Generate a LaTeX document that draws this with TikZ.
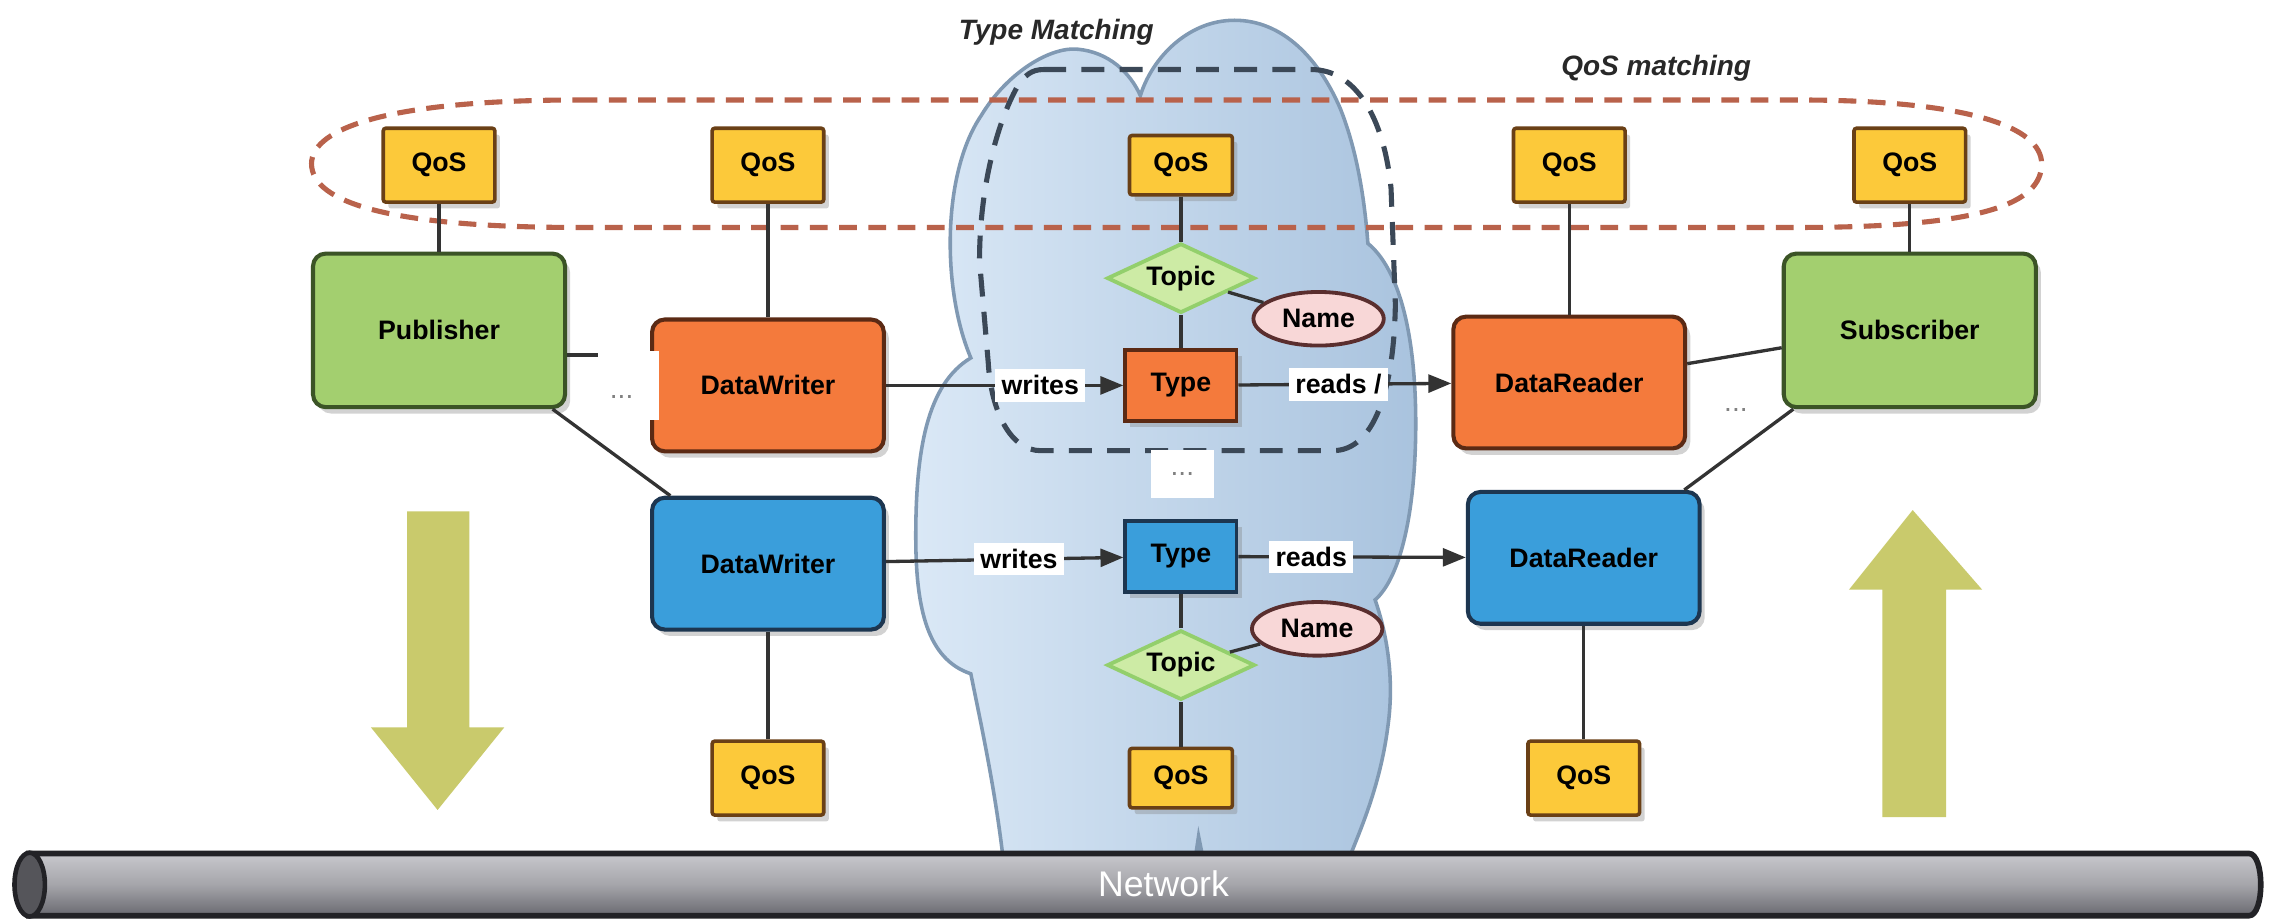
\documentclass[tikz,border=0pt]{standalone}
\usepackage{fontspec}
\setmainfont{Liberation Sans}
\usetikzlibrary{shapes.geometric, arrows.meta, shadows, calc}
\definecolor{greenf}{HTML}{A3CF6F}
\definecolor{greend}{HTML}{3B5426}
\definecolor{orangef}{HTML}{F47A3C}
\definecolor{oranged}{HTML}{5B2A14}
\definecolor{bluef}{HTML}{3A9EDB}
\definecolor{blued}{HTML}{1D3650}
\definecolor{qosf}{HTML}{FCC93A}
\definecolor{qosd}{HTML}{6A4016}
\definecolor{topicf}{HTML}{CDEBA5}
\definecolor{topicd}{HTML}{93CF6C}
\definecolor{namef}{HTML}{F8D7D7}
\definecolor{named}{HTML}{5A2E2E}
\definecolor{cloudl}{HTML}{DAE8F6}
\definecolor{cloudr}{HTML}{A9C3DE}
\definecolor{cloudd}{HTML}{8099B3}
\definecolor{reddash}{HTML}{B9624B}
\definecolor{blkdash}{HTML}{3B4857}
\definecolor{olivea}{HTML}{C9CA6C}
\definecolor{linec}{HTML}{333333}
\definecolor{netd}{HTML}{222226}
\tikzset{
  conn/.style={draw=linec, line width=1.3pt},
  arr/.style={conn, -{Triangle[length=9pt,width=7pt]}},
  boxfont/.style={font=\fontsize{10.5}{12}\selectfont\bfseries},
  shad/.style={drop shadow={opacity=0.35, shadow xshift=2pt, shadow yshift=-2.5pt}},
  bigbox/.style={boxfont, shad, draw, rounded corners=5pt, line width=1.6pt},
  pubbox/.style={bigbox, fill=greenf, draw=greend, minimum width=3.48cm, minimum height=2.12cm},
  orbox/.style={bigbox, fill=orangef, draw=oranged, minimum width=3.2cm, minimum height=1.82cm},
  blbox/.style={bigbox, fill=bluef, draw=blued, minimum width=3.2cm, minimum height=1.82cm},
  qos/.style={boxfont, shad, draw=qosd, fill=qosf, line width=1.4pt, rounded corners=1pt, minimum width=1.54cm, minimum height=1.02cm, inner sep=0pt},
  qosc/.style={qos, minimum width=1.42cm, minimum height=0.82cm},
  typebox/.style={boxfont, shad, line width=1.4pt, minimum width=1.54cm, minimum height=0.98cm, inner sep=0pt},
  topic/.style={boxfont, diamond, aspect=2.1, draw=topicd, fill=topicf, line width=1.5pt, minimum width=2.04cm, minimum height=0.96cm, inner sep=0pt},
  namee/.style={boxfont, ellipse, draw=named, fill=namef, line width=1.5pt, minimum width=1.8cm, minimum height=0.74cm, inner sep=0pt},
  lbl/.style={boxfont, fill=white, inner sep=2.5pt},
  dotsn/.style={font=\fontsize{11}{12}\selectfont, text=gray},
  matchlbl/.style={font=\fontsize{11}{13}\selectfont\bfseries\itshape, text={rgb,255:red,40;green,40;blue,40}},
}
\begin{document}
\begin{tikzpicture}[x=0.02cm, y=-0.02cm]
\useasboundingbox (0,0) rectangle (1568,634);
\fill[white] (0,0) rectangle (1568,634);

% cloud
\shade[left color=cloudl, right color=cloudr, draw=cloudd, line width=1.4pt]
 (692,590) .. controls (686,540) and (676,495) .. (670,465)
 .. controls (640,455) and (632,420) .. (632,370)
 .. controls (632,310) and (640,265) .. (670,247)
 .. controls (650,200) and (650,120) .. (677,80)
 .. controls (695,50) and (725,32) .. (744,34)
 .. controls (765,36) and (780,50) .. (787,66)
 .. controls (795,40) and (820,14) .. (852,14)
 .. controls (885,14) and (910,40) .. (925,75)
 .. controls (937,105) and (942,140) .. (944,168)
 .. controls (965,185) and (978,230) .. (977,300)
 .. controls (976,360) and (965,400) .. (949,414)
 .. controls (958,440) and (962,470) .. (958,500)
 .. controls (953,540) and (940,570) .. (932,590) -- cycle;
\fill[cloudd] (824,590) -- (827,570) -- (831,590) -- cycle;

% QoS matching (red dashed)
\draw[reddash, line width=2pt, dash pattern=on 7pt off 4.5pt]
 (400,69) -- (1240,69) .. controls (1360,69) and (1409,88) .. (1409,113)
 .. controls (1409,140) and (1370,157) .. (1240,157) -- (400,157)
 .. controls (270,157) and (215,140) .. (215,113)
 .. controls (215,88) and (270,69) .. (400,69) -- cycle;

% Type matching (black dashed)
\draw[blkdash, line width=2pt, dash pattern=on 9pt off 6pt]
 (720,48) -- (905,48) .. controls (935,48) and (955,80) .. (960,130)
 -- (963,210) .. controls (962,270) and (948,311) .. (920,311)
 -- (718,311) .. controls (698,311) and (684,285) .. (682,250)
 -- (676,180) .. controls (676,130) and (688,85) .. (702,60)
 .. controls (707,52) and (712,48) .. (720,48) -- cycle;

\node[matchlbl] (tmlabel) at (729,22) {Type Matching};
\node[matchlbl] (qmlabel) at (1143,47) {QoS matching};

% big arrows
\fill[olivea] (281,353) -- (324,353) -- (324,502) -- (348,502) -- (302,559) -- (256,502) -- (281,502) -- cycle;
\fill[olivea] (1299,564) -- (1343,564) -- (1343,407) -- (1368,407) -- (1320,352) -- (1276,407) -- (1299,407) -- cycle;

% network
\shade[top color={rgb,255:red,200;green,200;blue,205}, bottom color={rgb,255:red,105;green,105;blue,112}, middle color={rgb,255:red,165;green,165;blue,170}, draw=netd, line width=2.2pt]
 (20,589) -- (1552,589) .. controls (1563,589) and (1563,632) .. (1552,632)
 -- (20,632) -- cycle;
\node[ellipse, draw=netd, line width=1.8pt, fill={rgb,255:red,85;green,85;blue,90}, minimum width=0.42cm, minimum height=0.88cm, inner sep=0pt] (netcap) at (20.5,610.5) {};
\node[text=white, font=\fontsize{14}{16}\selectfont] (net) at (803,610) {Network};

% nodes
\node[pubbox] (pub) at (303,228) {Publisher};
\node[pubbox] (sub) at (1318,228) {Subscriber};
\node[orbox] (dwo) at (530,266) {DataWriter};
\node[orbox] (dro) at (1083,264) {DataReader};
\node[blbox] (dwb) at (530,389) {DataWriter};
\node[blbox] (drb) at (1093,385) {DataReader};

\node[qos] (q1) at (303,114) {QoS};
\node[qos] (q2) at (530,114) {QoS};
\node[qosc] (q3) at (815,114) {QoS};
\node[qos] (q4) at (1083,114) {QoS};
\node[qos] (q5) at (1318,114) {QoS};
\node[qosc] (q6) at (815,537) {QoS};
\node[qos] (q7) at (530,537) {QoS};
\node[qos] (q8) at (1093,537) {QoS};

\node[typebox, fill=orangef, draw=oranged] (t1) at (815,266) {Type};
\node[typebox, fill=bluef, draw=blued] (t2) at (815,384) {Type};
\node[topic] (tp1) at (815,192) {Topic};
\node[topic] (tp2) at (815,459) {Topic};
\node[namee] (n1) at (910,220) {Name};
\node[namee] (n2) at (909,434) {Name};

% connectors
\draw[conn] (q1) -- (pub);
\draw[conn] (q2) -- (dwo);
\draw[conn] (q3) -- (tp1);
\draw[conn] (tp1) -- (t1);
\draw[conn] (tp1) -- (n1);
\draw[conn] (q4) -- (dro);
\draw[conn] (q5) -- (sub);
\draw[conn] (dwb) -- (q7);
\draw[conn] (drb) -- (q8);
\draw[conn] (t2) -- (tp2);
\draw[conn] (tp2) -- (q6);
\draw[conn] (tp2) -- (n2);
\draw[conn] ($(pub.east)+(0,17)$) -- ($(dwo.west)+(0,-21)$);
\draw[conn] ($(dro.east)+(0,-13)$) -- ($(sub.west)+(0,12)$);
\draw[conn] ($(pub.south east)+(-10,0)$) -- ($(dwb.north west)+(14,0)$);
\draw[conn] ($(sub.south west)+(8,0)$) -- ($(drb.north east)+(-12,0)$);

\draw[arr] (dwo) -- node[lbl, pos=0.65] (w1) {writes} (t1);
\draw[arr] (t1) -- node[lbl, pos=0.47] (r1) {reads /} (dro);
\draw[arr] (dwb) -- node[lbl, pos=0.56] (w2) {writes} (t2);
\draw[arr] (t2) -- node[lbl, pos=0.32] (r2) {reads} (drb);

% ellipsis marks
\node[fill=white, minimum width=0.84cm, minimum height=0.96cm, inner sep=0pt] (dLbox) at (434,266) {};
\node[dotsn] (dL) at (429,274) {...};
\node[fill=white, dotsn, minimum width=0.88cm, minimum height=0.66cm, inner sep=0pt] (d0) at (816,327) {...};
\node[dotsn] (dR) at (1198,283) {...};
\end{tikzpicture}
\end{document}
